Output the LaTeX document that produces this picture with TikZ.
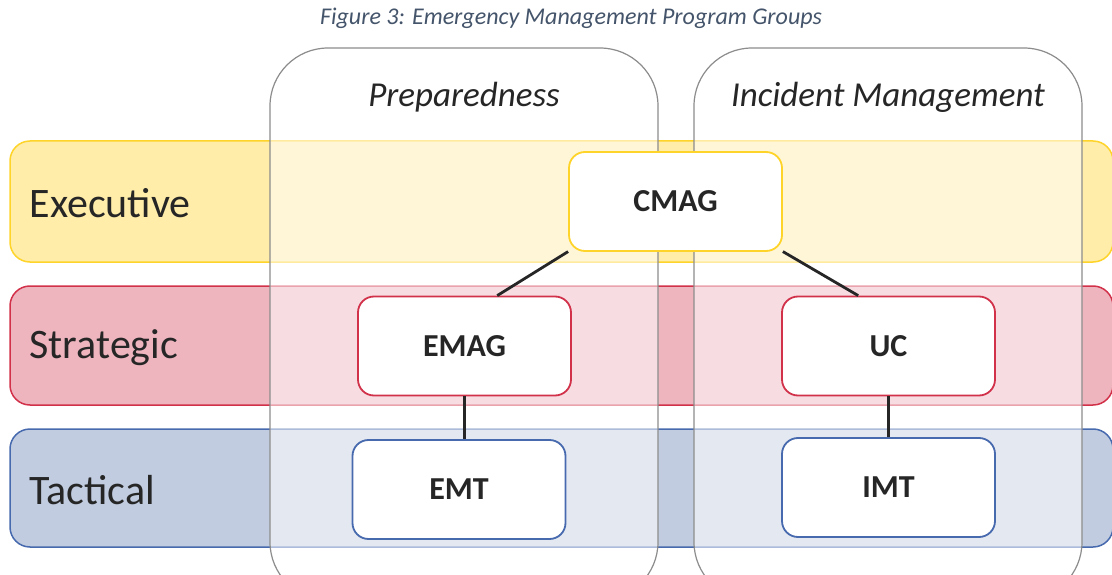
\documentclass[tikz,border=0pt]{standalone}
\usepackage{fontspec}
\setmainfont{Carlito}
\definecolor{txt}{HTML}{262626}
\definecolor{ttl}{HTML}{44546A}
\definecolor{yfill}{HTML}{FFEDA9}
\definecolor{ydraw}{HTML}{FFD42A}
\definecolor{rfill}{HTML}{EEB5BF}
\definecolor{rdraw}{HTML}{D2314A}
\definecolor{bfill}{HTML}{C1CCE0}
\definecolor{bdraw}{HTML}{4769AE}
\definecolor{cdraw}{HTML}{8C8C8C}
\tikzset{
  band/.style={line width=1.5pt, rounded corners=20pt},
  bandlabel/.style={anchor=west, text=txt, font=\fontsize{42}{46}\selectfont},
  container/.style={draw=cdraw, line width=1.2pt, fill=white, fill opacity=0.55, rounded corners=58pt},
  colhead/.style={text=txt, font=\fontsize{35}{39}\selectfont\itshape},
  unit/.style={draw, line width=1.8pt, fill=white, rounded corners=16pt, minimum width=213pt, minimum height=99pt, text=txt, font=\fontsize{32}{36}\selectfont\bfseries, inner sep=0pt},
  link/.style={draw=txt, line width=2.8pt}
}
\begin{document}
\begin{tikzpicture}[x=1pt,y=-1pt]
\useasboundingbox (0,0) rectangle (1112,575);
\clip (0,0) rectangle (1112,575);
% title
\node[text=ttl, font=\fontsize{24}{27}\selectfont\itshape] (title) at (571,18) {Figure 3: Emergency Management Program Groups};
% bands
\draw[band, fill=yfill, draw=ydraw] (10,141) rectangle (1113,262);
\draw[band, fill=rfill, draw=rdraw] (10,286) rectangle (1113,405);
\draw[band, fill=bfill, draw=bdraw] (10,429) rectangle (1113,547);
\node[bandlabel] (exec) at (26,203) {Executive};
\node[bandlabel] (strat) at (26,348) {Strategic};
\node[bandlabel] (tact) at (26,490) {Tactical};
% containers
\draw[container] (270,48) rectangle (658,600);
\draw[container] (694,48) rectangle (1082,600);
\node[colhead] (prep) at (464,97) {Preparedness};
\node[colhead] (incm) at (888,97) {Incident Management};
% units
\node[unit, draw=ydraw] (CMAG) at (675.5,201.5) {CMAG};
\node[unit, draw=rdraw] (EMAG) at (464.5,346) {EMAG};
\node[unit, draw=rdraw] (UC) at (888.5,346) {UC};
\node[unit, draw=bdraw] (EMT) at (459,489.5) {EMT};
\node[unit, draw=bdraw] (IMT) at (888.5,487.5) {IMT};
% links
\draw[link] (CMAG.205.8) -- (EMAG.57);
\draw[link] (CMAG.335.6) -- (UC.121.4);
\draw[link] (EMAG.south) -- (EMAG.south |- EMT.north);
\draw[link] (UC.south) -- (UC.south |- IMT.north);
\end{tikzpicture}
\end{document}
